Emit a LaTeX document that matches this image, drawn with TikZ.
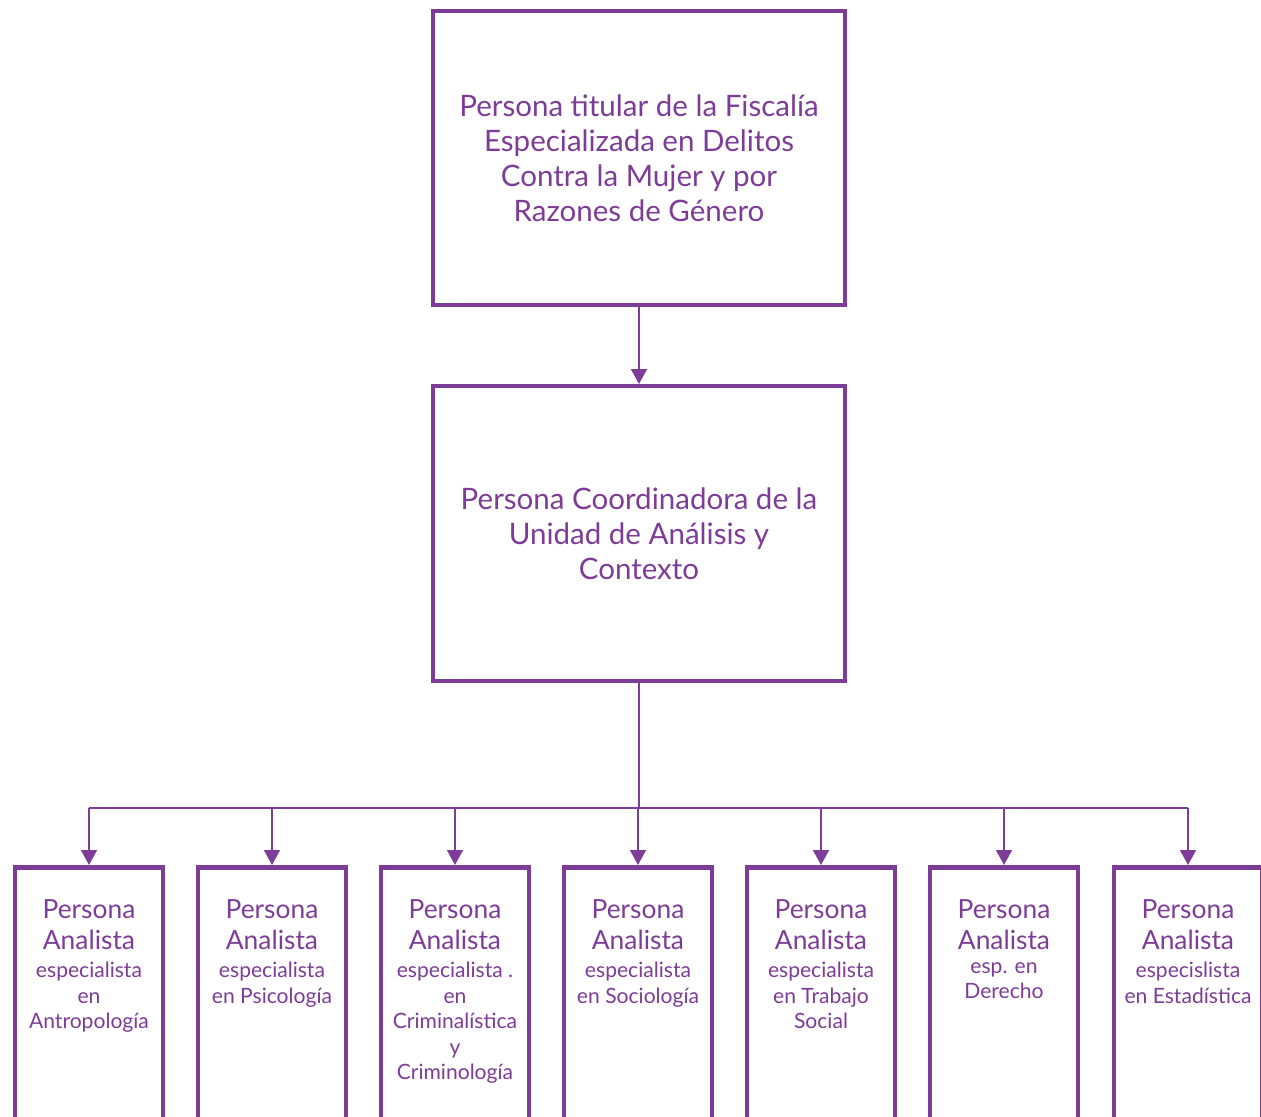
\documentclass[tikz,border=0pt]{standalone}
\usepackage{fontspec}
\setmainfont{Lato}
\usepackage{xcolor}
\usetikzlibrary{arrows.meta}
\definecolor{morado}{RGB}{125,60,150}

\begin{document}
\begin{tikzpicture}[x=0.02cm,y=-0.02cm,
	caja/.style={draw=morado,line width=2.3pt,text=morado,align=center,
		minimum width=8.24cm,minimum height=5.88cm,
		font=\fontsize{16.8}{20}\selectfont},
	cajita/.style={draw=morado,line width=2.8pt,anchor=north,
		minimum width=2.96cm,minimum height=6cm},
	cabeza/.style={text=morado,align=center,anchor=north,inner sep=0pt,
		font=\fontsize{15}{17.6}\selectfont,execute at begin node=\strut},
	detalle/.style={text=morado,align=center,anchor=north,inner sep=0pt,
		font=\fontsize{12}{14.5}\selectfont,execute at begin node=\strut},
	linea/.style={draw=morado,line width=1.1pt},
	flecha/.style={linea,-{Triangle[width=9pt,length=8.5pt]}}]
		\clip (0,0) rectangle (1261,1116);
		% cajas superiores
		\node[caja] (titular) at (639,158) {Persona titular de la Fiscalía\\
			Especializada en Delitos\\ Contra la Mujer y por\\ Razones de Género};
		\node[caja,minimum height=5.9cm] (coord) at (639,533.5) {Persona Coordinadora de la\\
			Unidad de Análisis y\\ Contexto};
		\draw[flecha] (titular) -- (coord);
		% analistas
		\foreach \i/\x/\esp in {1/89/especialista\\ en\\ Antropología,
			2/272/especialista\\ en Psicología,
			3/455/especialista .\\ en\\ Criminalística\\ y\\ Criminología,
			4/638/especialista\\ en Sociología,
			5/821/especialista\\ en Trabajo\\ Social,
			6/1004/esp. en\\ Derecho,
			7/1188/especislista\\ en Estadística}{
			\node[cajita] (a\i) at (\x,865) {};
			\node[cabeza] (p\i) at (\x,899) {Persona\\ Analista};
			\node[detalle] (e\i) at (\x,962) {\esp};
		}
		\coordinate (bus) at (639,808);
		\draw[linea] (coord) -- (bus);
		\foreach \i in {1,...,7}{
			\coordinate (b\i) at (a\i.north |- bus);
			\draw[flecha] (b\i) -- (a\i.north);
		}
		\draw[linea] (b1) -- (b7);
	\end{tikzpicture}
\end{document}
